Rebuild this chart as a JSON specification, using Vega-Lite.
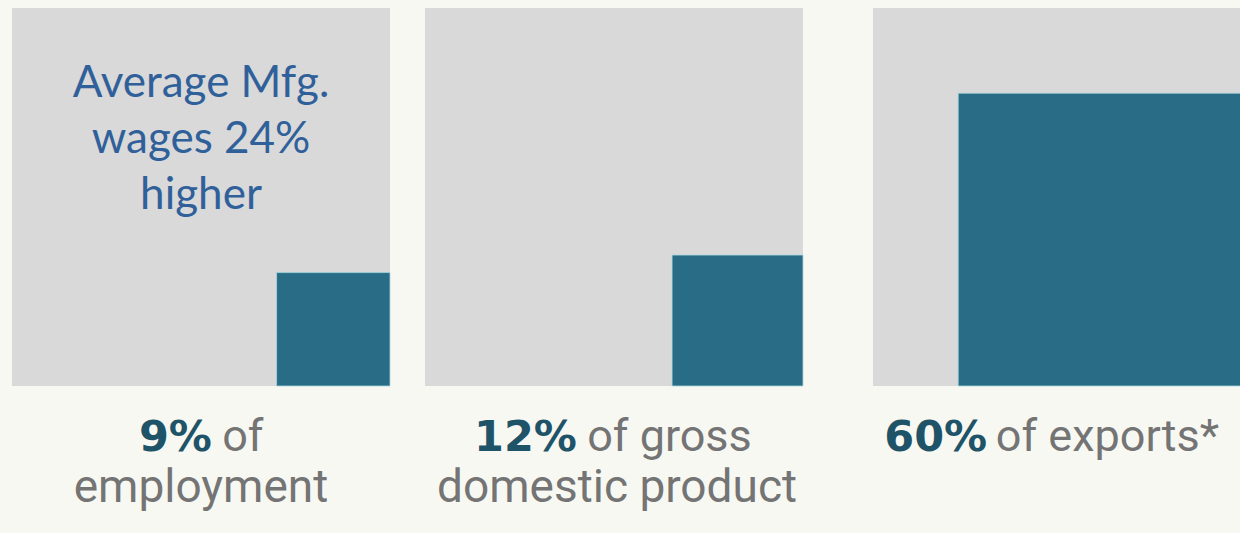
{
  "$schema": "https://vega.github.io/schema/vega-lite/v6.json",
  "background": "#f8f8f3",
  "padding": {"left": 12, "top": 8, "right": 0, "bottom": 30},
  "autosize": {"type": "pad"},
  "config": {"view": {"stroke": null}},
  "datasets": {
    "shares": [
      {"measure": "employment", "share": 9, "lead": "9%", "rest": "of", "line2": "employment"},
      {"measure": "gdp", "share": 12, "lead": "12%", "rest": "of gross", "line2": "domestic product"},
      {"measure": "exports", "share": 60, "lead": "60%", "rest": "of exports*", "line2": ""}
    ]
  },
  "spacing": 69,
  "hconcat": [
    {
      "bounds": "flush",
      "spacing": 35,
      "hconcat": [
        {
          "width": 378, "height": 378,
          "data": {"name": "shares"},
          "transform": [{"filter": "datum.measure === 'employment'"}],
          "resolve": {"scale": {"x": "independent", "y": "independent"}},
          "layer": [
            {
              "layer": [
                {"mark": {"type": "rect", "color": "#d9d9d9"},
                 "encoding": {
                   "x": {"datum": 100, "type": "quantitative", "scale": {"type": "sqrt", "domain": [0, 100], "reverse": true}, "axis": null},
                   "x2": {"datum": 0},
                   "y": {"datum": 100, "type": "quantitative", "scale": {"type": "sqrt", "domain": [0, 100]}, "axis": null},
                   "y2": {"datum": 0}}},
                {"mark": {"type": "rect", "color": "#296c85", "stroke": "#a8d6e0", "strokeWidth": 0.8},
                 "encoding": {
                   "x": {"field": "share", "type": "quantitative", "scale": {"type": "sqrt", "domain": [0, 100], "reverse": true}, "axis": null},
                   "x2": {"datum": 0},
                   "y": {"field": "share", "type": "quantitative", "scale": {"type": "sqrt", "domain": [0, 100]}, "axis": null},
                   "y2": {"datum": 0}}}
              ]
            },
            {
              "layer": [
                {"mark": {"type": "text", "text": ["Average Mfg.", "wages 24%", "higher"], "font": "Lato", "fontSize": 44, "lineHeight": 56, "color": "#30609a", "align": "center", "baseline": "alphabetic"},
                 "encoding": {
                   "x": {"datum": 0.5, "type": "quantitative", "scale": {"domain": [0, 1], "nice": false, "zero": false}, "axis": null},
                   "y": {"datum": 0.765, "type": "quantitative", "scale": {"domain": [0, 1], "nice": false, "zero": false}, "axis": null}}},
                {"mark": {"type": "text", "font": "DejaVu Sans", "fontWeight": "bold", "fontSize": 43, "color": "#1f5468", "align": "right", "baseline": "alphabetic"},
                 "encoding": {
                   "text": {"field": "lead"},
                   "x": {"datum": 0.529, "type": "quantitative"},
                   "y": {"datum": -0.172, "type": "quantitative"}}},
                {"mark": {"type": "text", "font": "Roboto", "fontSize": 45, "color": "#747474", "align": "left", "baseline": "alphabetic"},
                 "encoding": {
                   "text": {"field": "rest"},
                   "x": {"datum": 0.556, "type": "quantitative"},
                   "y": {"datum": -0.172, "type": "quantitative"}}},
                {"mark": {"type": "text", "font": "Roboto", "fontSize": 46, "color": "#747474", "align": "center", "baseline": "alphabetic"},
                 "encoding": {
                   "text": {"field": "line2"},
                   "x": {"datum": 0.5, "type": "quantitative"},
                   "y": {"datum": -0.307, "type": "quantitative"}}}
              ]
            }
          ]
        },
        {
          "width": 378, "height": 378,
          "data": {"name": "shares"},
          "transform": [{"filter": "datum.measure === 'gdp'"}],
          "resolve": {"scale": {"x": "independent", "y": "independent"}},
          "layer": [
            {
              "layer": [
                {"mark": {"type": "rect", "color": "#d9d9d9"},
                 "encoding": {
                   "x": {"datum": 100, "type": "quantitative", "scale": {"type": "sqrt", "domain": [0, 100], "reverse": true}, "axis": null},
                   "x2": {"datum": 0},
                   "y": {"datum": 100, "type": "quantitative", "scale": {"type": "sqrt", "domain": [0, 100]}, "axis": null},
                   "y2": {"datum": 0}}},
                {"mark": {"type": "rect", "color": "#296c85", "stroke": "#a8d6e0", "strokeWidth": 0.8},
                 "encoding": {
                   "x": {"field": "share", "type": "quantitative", "scale": {"type": "sqrt", "domain": [0, 100], "reverse": true}, "axis": null},
                   "x2": {"datum": 0},
                   "y": {"field": "share", "type": "quantitative", "scale": {"type": "sqrt", "domain": [0, 100]}, "axis": null},
                   "y2": {"datum": 0}}}
              ]
            },
            {
              "layer": [
                {"mark": {"type": "text", "font": "DejaVu Sans", "fontWeight": "bold", "fontSize": 43, "color": "#1f5468", "align": "right", "baseline": "alphabetic"},
                 "encoding": {
                   "text": {"field": "lead"},
                   "x": {"datum": 0.402, "type": "quantitative", "scale": {"domain": [0, 1], "nice": false, "zero": false}, "axis": null},
                   "y": {"datum": -0.172, "type": "quantitative", "scale": {"domain": [0, 1], "nice": false, "zero": false}, "axis": null}}},
                {"mark": {"type": "text", "font": "Roboto", "fontSize": 45, "color": "#747474", "align": "left", "baseline": "alphabetic"},
                 "encoding": {
                   "text": {"field": "rest"},
                   "x": {"datum": 0.429, "type": "quantitative"},
                   "y": {"datum": -0.172, "type": "quantitative"}}},
                {"mark": {"type": "text", "font": "Roboto", "fontSize": 46, "color": "#747474", "align": "center", "baseline": "alphabetic"},
                 "encoding": {
                   "text": {"field": "line2"},
                   "x": {"datum": 0.508, "type": "quantitative"},
                   "y": {"datum": -0.307, "type": "quantitative"}}}
              ]
            }
          ]
        }
      ]
    },
    {
      "width": 378, "height": 378,
      "data": {"name": "shares"},
      "transform": [{"filter": "datum.measure === 'exports'"}],
      "resolve": {"scale": {"x": "independent", "y": "independent"}},
      "layer": [
        {
          "layer": [
            {"mark": {"type": "rect", "color": "#d9d9d9"},
             "encoding": {
               "x": {"datum": 100, "type": "quantitative", "scale": {"type": "sqrt", "domain": [0, 100], "reverse": true}, "axis": null},
               "x2": {"datum": 0},
               "y": {"datum": 100, "type": "quantitative", "scale": {"type": "sqrt", "domain": [0, 100]}, "axis": null},
               "y2": {"datum": 0}}},
            {"mark": {"type": "rect", "color": "#296c85", "stroke": "#a8d6e0", "strokeWidth": 0.8},
             "encoding": {
               "x": {"field": "share", "type": "quantitative", "scale": {"type": "sqrt", "domain": [0, 100], "reverse": true}, "axis": null},
               "x2": {"datum": 0},
               "y": {"field": "share", "type": "quantitative", "scale": {"type": "sqrt", "domain": [0, 100]}, "axis": null},
               "y2": {"datum": 0}}}
          ]
        },
        {
          "layer": [
            {"mark": {"type": "text", "font": "DejaVu Sans", "fontWeight": "bold", "fontSize": 43, "color": "#1f5468", "align": "right", "baseline": "alphabetic"},
             "encoding": {
               "text": {"field": "lead"},
               "x": {"datum": 0.302, "type": "quantitative", "scale": {"domain": [0, 1], "nice": false, "zero": false}, "axis": null},
               "y": {"datum": -0.172, "type": "quantitative", "scale": {"domain": [0, 1], "nice": false, "zero": false}, "axis": null}}},
            {"mark": {"type": "text", "font": "Roboto", "fontSize": 45, "color": "#747474", "align": "left", "baseline": "alphabetic"},
             "encoding": {
               "text": {"field": "rest"},
               "x": {"datum": 0.325, "type": "quantitative"},
               "y": {"datum": -0.172, "type": "quantitative"}}}
          ]
        }
      ]
    }
  ]
}
